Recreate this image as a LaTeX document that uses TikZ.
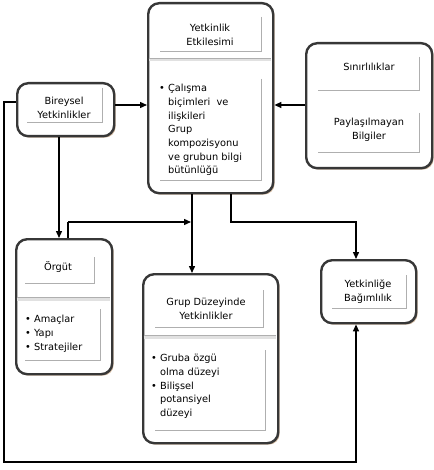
\documentclass[tikz,border=0pt]{standalone}
\usepackage{fontspec}
\setmainfont{DejaVu Sans}
\usetikzlibrary{arrows.meta,shadows,calc}
\definecolor{boxline}{RGB}{55,55,55}
\definecolor{shadowc}{RGB}{210,185,160}
\definecolor{panel}{RGB}{175,175,175}
\definecolor{band}{RGB}{225,225,225}
\tikzset{
  box/.style={draw=boxline, line width=2.4pt, rounded corners=11pt, fill=white,
    drop shadow={shadow xshift=1.5pt, shadow yshift=-1.5pt, fill=shadowc, opacity=1},
    inner sep=0pt, anchor=north west},
  txt/.style={font=\fontsize{9.8}{13.7}\selectfont, align=center, inner sep=0pt},
  ltxt/.style={font=\fontsize{9.8}{13.7}\selectfont, align=left, inner sep=0pt, anchor=north west},
  pline/.style={draw=panel, line width=0.9pt},
  bandl/.style={draw=band, line width=3pt},
  conn/.style={draw=black, line width=1.4pt},
  arr/.style={conn, -{Triangle[length=7pt,width=6pt]}},
}
\newcommand{\bx}[5]{% name, x1, y1, x2, y2
  \node[box, minimum width=#4-#2, minimum height=#5-#3] (#1) at (#2,#3) {};}
\begin{document}
\begin{tikzpicture}[x=1pt,y=-1pt]
\useasboundingbox (0,0) rectangle (433,470);

% boxes
\bx{YE}{147}{2}{272}{192}
\bx{Bir}{16}{82}{113}{135}
\bx{Sin}{305}{42}{431}{167}
\bx{Org}{15}{238}{111}{373}
\bx{Grup}{142}{273}{277}{442}
\bx{YB}{320}{259}{415}{322}

% YE inner
\draw[bandl] (148.5,60) -- (270.5,60);
\draw[draw=panel,line width=0.8pt] (148.5,58) -- (270.5,58);
\draw[pline] (261,17) -- (261,51) -- (160,51);
\draw[pline] (261,79) -- (261,180) -- (160,180);
\node[txt] (YEt) at (210,35) {Yetkinlik\\Etkilesimi};
\node[ltxt] (YEb) at (159,84) {\textbullet\ Çalışma\\\hspace*{9pt}biçimleri\ \ ve\\\hspace*{9pt}ilişkileri\\\hspace*{9pt}Grup\\\hspace*{9pt}kompozisyonu\\\hspace*{9pt}ve grubun bilgi\\\hspace*{9pt}bütünlüğü};

% Bireysel
\draw[pline] (102,88) -- (102,122) -- (27,122);
\node[txt] (Birt) at (64,108) {Bireysel\\Yetkinlikler};

% Sinirliliklar
\draw[pline] (419,57) -- (419,90) -- (318,90);
\draw[pline] (419,113) -- (419,152) -- (318,152);
\node[txt] (Sint) at (369,67) {Sınırlılıklar};
\node[txt] (Sinb) at (369,130) {Paylaşılmayan\\Bilgiler};

% Orgut
\draw[bandl] (16.5,299) -- (109.5,299);
\draw[draw=panel,line width=0.8pt] (16.5,297) -- (109.5,297);
\draw[pline] (94,257) -- (94,283) -- (25,283);
\draw[pline] (100,309) -- (100,360) -- (25,360);
\node[txt] (Orgt) at (58,267) {Örgüt};
\node[ltxt] (Orgb) at (25,315) {\textbullet\ Amaçlar\\\textbullet\ Yapı\\\textbullet\ Stratejiler};

% Grup
\draw[bandl] (143.5,337) -- (275.5,337);
\draw[draw=panel,line width=0.8pt] (143.5,335) -- (275.5,335);
\draw[pline] (263,290) -- (263,327) -- (155,327);
\draw[pline] (265,350) -- (265,430) -- (155,430);
\node[txt] (Grupt) at (206,309) {Grup Düzeyinde\\Yetkinlikler};
\node[ltxt] (Grupb) at (151,354) {\textbullet\ Gruba özgü\\\hspace*{9pt}olma düzeyi\\\textbullet\ Bilişsel\\\hspace*{9pt}potansiyel\\\hspace*{9pt}düzeyi};

% YB
\draw[pline] (406,275) -- (406,308) -- (332,308);
\node[txt] (YBt) at (368,292) {Yetkinliğe\\Bağımlılık};

% connectors
\coordinate (j1) at (192,222);
\coordinate (o1) at (68,222);
\coordinate (y1) at (231,222);
\coordinate (y2) at (356,222);
\coordinate (b1) at (4,102);
\coordinate (b2) at (4,462);
\coordinate (b3) at (356,462);

\draw[arr] (Bir.east |- 0,105) -- (YE.west |- 0,105);
\draw[arr] (Sin.west |- 0,105) -- (YE.east |- 0,105);
\draw[arr] (Bir.south -| 59,0) -- (Org.north -| 59,0);
\draw[arr] (YE.south -| j1) -- (Grup.north -| j1);
\draw[conn] (Org.north -| o1) -- (o1);
\draw[arr] (o1) -- ([xshift=-1pt]j1);
\draw[arr] (YE.south -| y1) -- (y1) -- (y2) -- (YB.north -| y2);
\draw[arr] (Bir.west |- b1) -- (b1) -- (b2) -- (b3) -- (YB.south -| b3);
\end{tikzpicture}
\end{document}
